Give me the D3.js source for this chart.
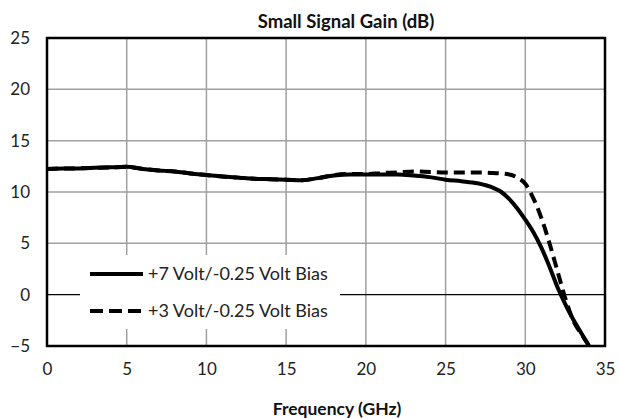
<!DOCTYPE html>
<html><head><meta charset="utf-8">
<script src="https://cdn.jsdelivr.net/npm/d3@7"></script>
<style>body{margin:0;background:#fff}svg{display:block}text{font-family:Lato,"Open Sans",sans-serif}</style>
</head><body><div id="c"></div>
<script>
const title = "Small Signal Gain (dB)";
const xTitle = "Frequency (GHz)";
const xTicks = [0,5,10,15,20,25,30,35];
const yTicks = [-5,0,5,10,15,20,25];
const seriesNames = ["+7 Volt/-0.25 Volt Bias", "+3 Volt/-0.25 Volt Bias"];
const freqA = [0,1,2,3,4,5,6,7,8,9,10,11,12,13,14,15,16,17,18,19,20,21,22,23,24,25,26,27,28,28.5,29,29.5,30,30.5,31,31.5,32,32.5,33,33.5,34];
const gainA = [12.25,12.3,12.3,12.35,12.4,12.45,12.25,12.1,12.0,11.8,11.65,11.5,11.4,11.3,11.25,11.2,11.15,11.35,11.6,11.7,11.7,11.7,11.7,11.6,11.45,11.2,11.05,10.85,10.4,10.0,9.3,8.4,7.3,6.1,4.6,2.8,0.8,-0.9,-2.4,-3.7,-5.0];
const freqB = [0,1,2,3,4,5,6,7,8,9,10,11,12,13,14,15,16,17,18,19,20,21,22,23,24,25,26,27,28,29,29.5,30,30.5,31,31.5,32,32.5,33,33.5,34];
const gainB = [12.25,12.3,12.3,12.35,12.4,12.45,12.25,12.1,12.0,11.8,11.65,11.5,11.4,11.3,11.25,11.2,11.15,11.35,11.65,11.75,11.75,11.85,11.9,12.0,11.95,11.9,11.9,11.9,11.85,11.7,11.4,10.8,9.4,7.5,5.1,2.4,-0.3,-2.5,-3.8,-5.0];

const W = 619, H = 418;
const m = {l:47, r:14, t:38, b:72};
const svg = d3.select("#c").append("svg").attr("width", W).attr("height", H);
const x = d3.scaleLinear().domain([0,35]).range([m.l, W - m.r]);
const y = d3.scaleLinear().domain([-5,25]).range([H - m.b, m.t]);

// grid
svg.append("g").selectAll("line").data(xTicks.slice(1,-1)).join("line")
  .attr("x1", d=>x(d)).attr("x2", d=>x(d)).attr("y1", y(25)).attr("y2", y(-5))
  .attr("stroke", "#a0a0a0").attr("stroke-width", 1.5);
svg.append("g").selectAll("line").data(yTicks.filter(d=>d!==0 && d!==-5 && d!==25)).join("line")
  .attr("x1", x(0)).attr("x2", x(35)).attr("y1", d=>y(d)).attr("y2", d=>y(d))
  .attr("stroke", "#a0a0a0").attr("stroke-width", 1.5);
svg.append("line").attr("x1", x(0)).attr("x2", x(35)).attr("y1", y(0)).attr("y2", y(0))
  .attr("stroke", "#000").attr("stroke-width", 1.2);

// series
const line = d3.line().x(d=>x(d[0])).y(d=>y(d[1])).curve(d3.curveMonotoneX);
svg.append("path").datum(freqB.map((f,i)=>[f,gainB[i]])).attr("d", line)
  .attr("fill","none").attr("stroke","#000").attr("stroke-width",4).attr("stroke-dasharray","11,6");
svg.append("path").datum(freqA.map((f,i)=>[f,gainA[i]])).attr("d", line)
  .attr("fill","none").attr("stroke","#000").attr("stroke-width",4);

// legend
const lg = svg.append("g");
lg.append("rect").attr("x", 80).attr("y", 255).attr("width", 260).attr("height", 74).attr("fill", "#fff");
seriesNames.forEach((n,i)=>{
  const yy = 274 + i*37;
  lg.append("line").attr("x1", 90).attr("x2", 143).attr("y1", yy).attr("y2", yy)
    .attr("stroke","#000").attr("stroke-width",4).attr("stroke-dasharray", i ? "13,6" : null);
  lg.append("text").attr("x", 148).attr("y", yy).attr("dy","0.35em").attr("font-size", 18).attr("fill","#222").text(n);
});

// border
svg.append("rect").attr("x", x(0)).attr("y", y(25)).attr("width", x(35)-x(0)).attr("height", y(-5)-y(25))
  .attr("fill","none").attr("stroke","#000").attr("stroke-width",2.5);

// axes
const xa = d3.axisBottom(x).tickValues(xTicks).tickSize(0).tickPadding(17);
svg.append("g").attr("transform", `translate(0,${y(-5)})`).call(xa)
  .call(g=>g.select(".domain").remove())
  .call(g=>g.selectAll("text").attr("font-size",17).attr("fill","#222").attr("font-family","Lato,sans-serif"));
const ya = d3.axisLeft(y).tickValues(yTicks).tickSize(0).tickPadding(17);
svg.append("g").attr("transform", `translate(${x(0)},0)`).call(ya)
  .call(g=>g.select(".domain").remove())
  .call(g=>g.selectAll("text").attr("font-size",17).attr("fill","#222").attr("font-family","Lato,sans-serif"));

svg.append("text").attr("x", 346).attr("y", 28).attr("text-anchor","middle")
  .attr("font-weight","bold").attr("font-size",18.5).attr("fill","#111").text(title);
svg.append("text").attr("x", 337).attr("y", 415).attr("text-anchor","middle")
  .attr("font-weight","bold").attr("font-size",17.5).attr("fill","#111").text(xTitle);
</script></body></html>
